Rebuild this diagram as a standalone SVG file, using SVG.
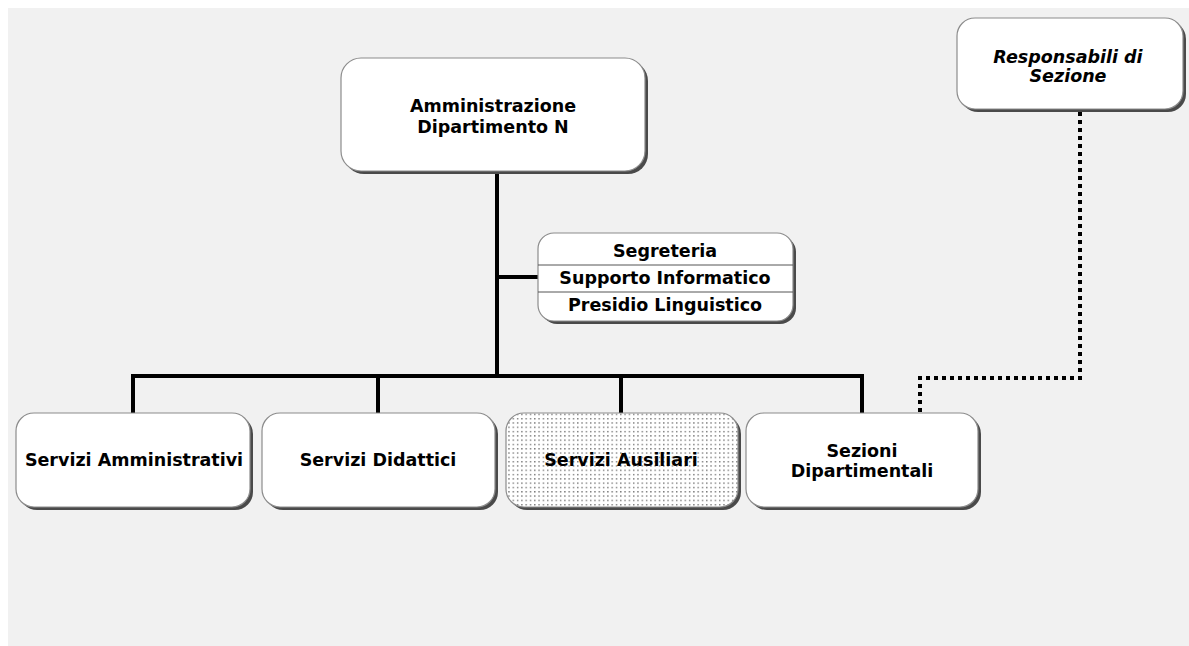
<svg xmlns="http://www.w3.org/2000/svg" width="1189" height="646" viewBox="0 0 1189 646">
  <defs>
    <pattern id="dots" width="4.3" height="4.3" patternUnits="userSpaceOnUse">
      <rect width="4.3" height="4.3" fill="#ffffff"/>
      <rect x="1" y="1" width="1.2" height="1.2" fill="#444444"/>
    </pattern>
  </defs>
  <style>
    .shadow { fill: #4a4a4a; }
    .box { fill: #ffffff; stroke: #8c8c8c; stroke-width: 1.2; }
    .dotted { fill: url(#dots); stroke: #8c8c8c; stroke-width: 1.2; }
    .lbl { font-family: "DejaVu Sans", Verdana, sans-serif; font-weight: bold; font-size: 17.5px; fill: #000000; text-anchor: middle; }
    .it { font-style: italic; }
    .wire { fill: none; stroke: #000000; stroke-width: 4; stroke-linecap: square; }
    .dash { fill: none; stroke: #000000; stroke-width: 4; stroke-dasharray: 4 4; }
    .rule { stroke: #555555; stroke-width: 1; }
  </style>

  <rect x="0" y="0" width="1189" height="646" fill="#ffffff"/>
  <rect x="8" y="8" width="1181" height="638" fill="#f1f1f1"/>

  <!-- connectors -->
  <g id="connectors">
    <path class="wire" d="M497 173 V376"/>
    <path class="wire" d="M497 277 H540"/>
    <path class="wire" d="M133 412 V376 H862 V412"/>
    <path class="wire" d="M378 376 V412"/>
    <path class="wire" d="M621 376 V412"/>
    <path class="dash" d="M1080 112 V378 H920 V413"/>
  </g>

  <g id="amministrazione">
    <rect class="shadow" x="344" y="61" width="304" height="113" rx="20"/>
    <rect class="box" x="341" y="58" width="304" height="113" rx="20"/>
    <text class="lbl" x="493" y="112">Amministrazione</text>
    <text class="lbl" x="493" y="133">Dipartimento N</text>
  </g>

  <g id="staff">
    <rect class="shadow" x="541" y="236" width="255" height="88" rx="16"/>
    <rect class="box" x="538" y="233" width="255" height="88" rx="16"/>
    <line class="rule" x1="538" y1="265" x2="793" y2="265"/>
    <line class="rule" x1="538" y1="292" x2="793" y2="292"/>
    <text class="lbl" x="665" y="257">Segreteria</text>
    <text class="lbl" x="665" y="284">Supporto Informatico</text>
    <text class="lbl" x="665" y="311">Presidio Linguistico</text>
  </g>

  <g id="responsabili">
    <rect class="shadow" x="960" y="21" width="226" height="91" rx="18"/>
    <rect class="box" x="957" y="18" width="226" height="91" rx="18"/>
    <text class="lbl it" x="1068" y="63">Responsabili di</text>
    <text class="lbl it" x="1068" y="82">Sezione</text>
  </g>

  <g id="servizi-amministrativi">
    <rect class="shadow" x="19" y="416" width="234" height="94" rx="18"/>
    <rect class="box" x="16" y="413" width="234" height="94" rx="18"/>
    <text class="lbl" x="134" y="466">Servizi Amministrativi</text>
  </g>

  <g id="servizi-didattici">
    <rect class="shadow" x="265" y="416" width="233" height="94" rx="18"/>
    <rect class="box" x="262" y="413" width="233" height="94" rx="18"/>
    <text class="lbl" x="378" y="466">Servizi Didattici</text>
  </g>

  <g id="servizi-ausiliari">
    <rect class="shadow" x="509" y="416" width="232" height="94" rx="18"/>
    <rect class="dotted" x="506" y="413" width="232" height="94" rx="18"/>
    <text class="lbl" x="621" y="466">Servizi Ausiliari</text>
  </g>

  <g id="sezioni-dipartimentali">
    <rect class="shadow" x="749" y="416" width="232" height="94" rx="18"/>
    <rect class="box" x="746" y="413" width="232" height="94" rx="18"/>
    <text class="lbl" x="862" y="457">Sezioni</text>
    <text class="lbl" x="862" y="477">Dipartimentali</text>
  </g>
</svg>
